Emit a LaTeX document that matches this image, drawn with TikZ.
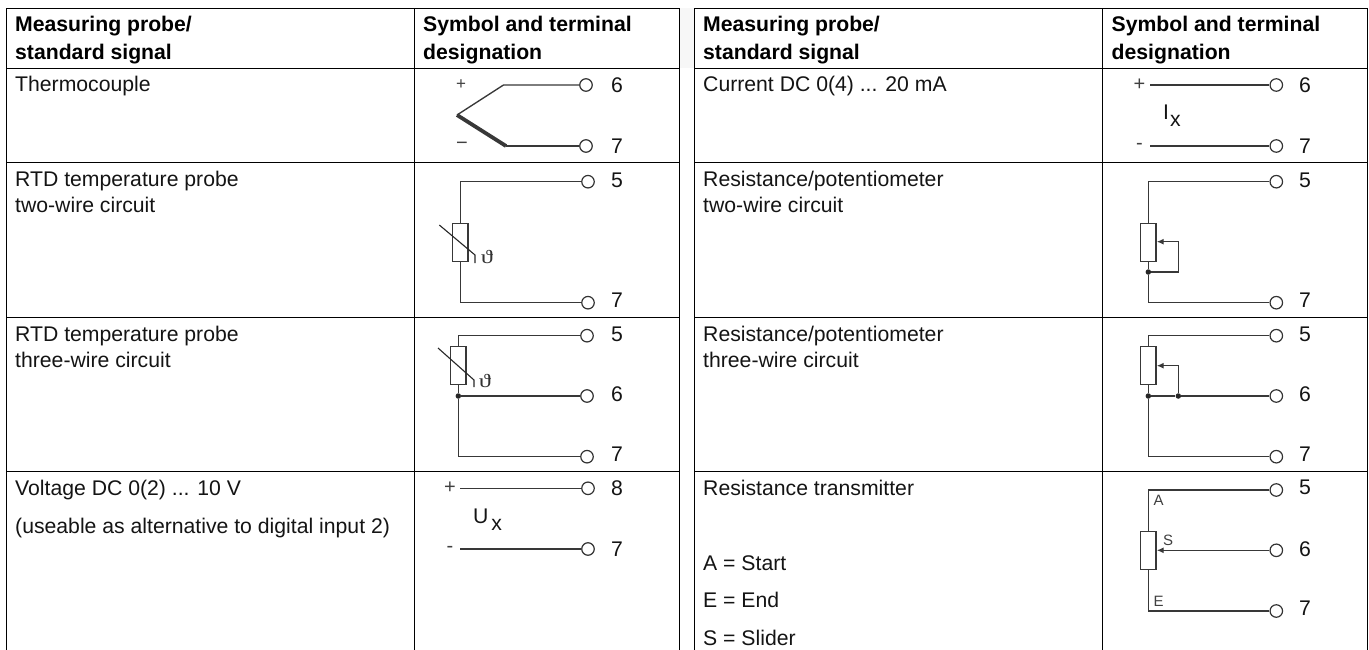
\documentclass[tikz,border=0pt]{standalone}
\usepackage{graphicx}
\usepackage{fontspec}
\setmainfont{Liberation Sans}
\newfontfamily\thfont{Liberation Serif}
\usetikzlibrary{arrows.meta}
\newcommand{\zz}{\fontsize{21.2}{27}\selectfont}
\newcommand{\thsym}{\scalebox{1.3}[1]{\char"03D1}}
\tikzset{
 x=1pt,y=-1pt,
 grid/.style={draw=black,line width=1pt},
 wire/.style={draw=black!78,line width=1.35pt,line join=miter},
 thin wire/.style={draw=black!85,line width=1.1pt},
 term/.style={circle,draw=black!80,line width=1.2pt,fill=white,inner sep=0pt,minimum size=12.5pt},
 txt/.style={anchor=base west,inner sep=0pt,font=\zz,text=black!92},
 head/.style={anchor=base west,inner sep=0pt,font=\zz\bfseries,text=black},
 lab/.style={inner sep=0pt,font=\fontsize{21.2}{21}\selectfont,text=black!92},
 res/.style={draw=black!78,line width=1.35pt,fill=white,minimum width=15.5pt,minimum height=38pt,inner sep=0pt},
 sm/.style={inner sep=0pt,font=\fontsize{15}{15}\selectfont,text=black!75},
 sg/.style={inner sep=0pt,font=\fontsize{20}{20}\selectfont,text=black!75},
 sg2/.style={inner sep=0pt,font=\fontsize{17}{17}\selectfont,text=black!75},
 theta/.style={inner sep=0pt,font=\thfont\fontsize{19}{19}\selectfont,text=black!80},
 jn/.style={circle,fill=black!85,inner sep=0pt,minimum size=5.5pt},
 tip/.style={-{Latex[length=7pt,width=6pt]}},
}
\begin{document}
\begin{tikzpicture}
\useasboundingbox (0,0) rectangle (1369,650);
\fill[black!3] (680,8.5) rectangle (694,68.5);
% tables
\draw[grid] (6.5,8.5) rectangle (679.5,650);
\draw[grid] (694,8.5) rectangle (1367,650);
\foreach \yy in {68.5,162.5,317.5,471.5}{
 \draw[grid] (6.5,\yy) -- (679.5,\yy);
 \draw[grid] (694,\yy) -- (1367,\yy);}
\draw[grid] (414.5,8.5) -- (414.5,650);
\draw[grid] (1102.5,8.5) -- (1102.5,650);
% headers
\node[head] (h1) at (15,31.7) {Measuring probe/};
\node[head] (h2) at (15,59.3) {standard signal};
\node[head] (h3) at (423,31.7) {Symbol and terminal};
\node[head] (h4) at (423,59.3) {designation};
\node[head] (h5) at (703,31.7) {Measuring probe/};
\node[head] (h6) at (703,59.3) {standard signal};
\node[head] (h7) at (1111.5,31.7) {Symbol and terminal};
\node[head] (h8) at (1111.5,59.3) {designation};
% left texts
\node[txt] (a1) at (15,91.7) {Thermocouple};
\node[txt] (a2) at (15,186.7) {RTD temperature probe};
\node[txt] (a3) at (15,212.7) {two-wire circuit};
\node[txt] (a4) at (15,341.7) {RTD temperature probe};
\node[txt] (a5) at (15,367.7) {three-wire circuit};
\node[txt] (a6) at (15,495) {Voltage DC 0(2) ... 10 V};
\node[txt] (a7) at (15,533) {(useable as alternative to digital input 2)};
% right texts
\node[txt] (b1) at (703,91.7) {Current DC 0(4) ... 20 mA};
\node[txt] (b2) at (703,186.7) {Resistance/potentiometer};
\node[txt] (b3) at (703,212.7) {two-wire circuit};
\node[txt] (b4) at (703,341.7) {Resistance/potentiometer};
\node[txt] (b5) at (703,367.7) {three-wire circuit};
\node[txt] (b6) at (703,495) {Resistance transmitter};
\node[txt] (b7) at (703,570) {A = Start};
\node[txt] (b8) at (703,607) {E = End};
\node[txt] (b9) at (703,645) {S = Slider};
% ---- thermocouple
\node[term] (t16) at (586,85) {};
\node[term] (t17) at (586,146) {};
\node[lab] (l16) at (617,85) {6};
\node[lab] (l17) at (617,146) {7};
\node[sg2] (tp) at (461,85) {+};
\node[sg] (tm) at (462,146) {\char"2212};
\coordinate (tj) at (457,115);
\coordinate (ta) at (503.5,85);
\coordinate (tb) at (506,146);
\draw[wire] (t16) -- (ta) -- (tj);
\draw[wire,line width=3.8pt] (tj) -- (tb);
\draw[wire] (tb) -- (t17);
% ---- RTD two wire
\node[term] (t25) at (588,181.7) {};
\node[term] (t27) at (588,302.7) {};
\node[lab] (l25) at (617,180) {5};
\node[lab] (l27) at (617,300.7) {7};
\node[res] (r2) at (460.3,242.3) {};
\draw[wire] (r2.north) |- (t25);
\draw[wire] (r2.south) |- (t27);
\draw[thin wire] (439.3,225) -- (475,255) -- (475,263);
\node[theta] (th2) at (487,257) {\thsym};
% ---- RTD three wire
\node[term] (t35) at (587,335.7) {};
\node[term] (t36) at (587,396) {};
\node[term] (t37) at (587,456.7) {};
\node[lab] (l35) at (617,334) {5};
\node[lab] (l36) at (617,394) {6};
\node[lab] (l37) at (617,454.3) {7};
\node[res] (r3) at (458.3,365.8) {};
\node[jn] (j3) at (458.3,396) {};
\draw[wire] (r3.north) |- (t35);
\draw[wire] (r3.south) -- (j3);
\draw[wire] (j3) -- (t36);
\draw[wire] (j3) |- (t37);
\draw[thin wire] (438,348) -- (474,380) -- (474,387);
\node[theta] (th3) at (485,381) {\thsym};
% ---- voltage
\node[term] (t48) at (588,488.3) {};
\node[term] (t47) at (588,549) {};
\node[lab] (l48) at (617,487.7) {8};
\node[lab] (l47) at (617,549) {7};
\node[sg] (vp) at (450,488) {+};
\node[sg] (vm) at (450,549) {-};
\coordinate (v1) at (460,488.3);
\coordinate (v2) at (460,549);
\draw[wire] (v1) -- (t48);
\draw[wire] (v2) -- (t47);
\node[lab,anchor=base west] (ux) at (472.8,523) {U\kern3pt\raisebox{-7pt}{x}};
% ---- current
\node[term] (c16) at (1276.3,85) {};
\node[term] (c17) at (1276.3,146) {};
\node[lab] (m16) at (1305,85) {6};
\node[lab] (m17) at (1305,146) {7};
\node[sg] (cp) at (1139.5,85) {+};
\node[sg] (cm) at (1139.5,146) {-};
\coordinate (c1) at (1150,85);
\coordinate (c2) at (1150,146);
\draw[wire] (c1) -- (c16);
\draw[wire] (c2) -- (c17);
\node[lab,anchor=base west] (ix) at (1163,120) {I\kern1pt\raisebox{-7pt}{x}};
% ---- resistance two wire
\node[term] (c25) at (1276.3,181.7) {};
\node[term] (c27) at (1276.3,302.7) {};
\node[lab] (m25) at (1305,180) {5};
\node[lab] (m27) at (1305,300.7) {7};
\node[res] (q2) at (1148.3,242.3) {};
\node[jn] (k2) at (1148.3,272) {};
\coordinate (k2a) at (1178.3,272);
\coordinate (k2b) at (1178.3,241.7);
\coordinate (k2c) at (q2.east |- k2b);
\draw[wire] (q2.north) |- (c25);
\draw[wire] (q2.south) -- (k2);
\draw[wire] (k2) |- (c27);
\draw[wire,tip] (k2) -- (k2a) -- (k2b) -- (k2c);
% ---- resistance three wire
\node[term] (c35) at (1276.3,335.7) {};
\node[term] (c36) at (1276.3,396) {};
\node[term] (c37) at (1276.3,456.7) {};
\node[lab] (m35) at (1305,334) {5};
\node[lab] (m36) at (1305,394) {6};
\node[lab] (m37) at (1305,454.3) {7};
\node[res] (q3) at (1148.3,365.8) {};
\node[jn] (k3) at (1148.3,396) {};
\node[jn] (k4) at (1178.3,396) {};
\coordinate (k3b) at (1178.3,365.7);
\coordinate (k3c) at (q3.east |- k3b);
\draw[wire] (q3.north) |- (c35);
\draw[wire] (q3.south) -- (k3);
\draw[wire] (k3) -- (k4);
\draw[wire] (k4) -- (c36);
\draw[wire] (k3) |- (c37);
\draw[wire,tip] (k4) -- (k3b) -- (k3c);
% ---- transmitter
\node[term] (c45) at (1276.3,490) {};
\node[term] (c46) at (1276.3,550.3) {};
\node[term] (c47) at (1276.3,611) {};
\node[lab] (m45) at (1305,487.7) {5};
\node[lab] (m46) at (1305,549) {6};
\node[lab] (m47) at (1305,608.3) {7};
\node[res] (q4) at (1148.3,550.2) {};
\coordinate (q4c) at (q4.east |- c46);
\draw[wire] (q4.north) |- (c45);
\draw[wire] (q4.south) |- (c47);
\draw[wire,tip] (c46) -- (q4c);
\node[sm] (sa) at (1158.7,500) {A};
\node[sm] (ss) at (1168,540) {S};
\node[sm] (se) at (1158.5,601.7) {E};
\end{tikzpicture}
\end{document}
